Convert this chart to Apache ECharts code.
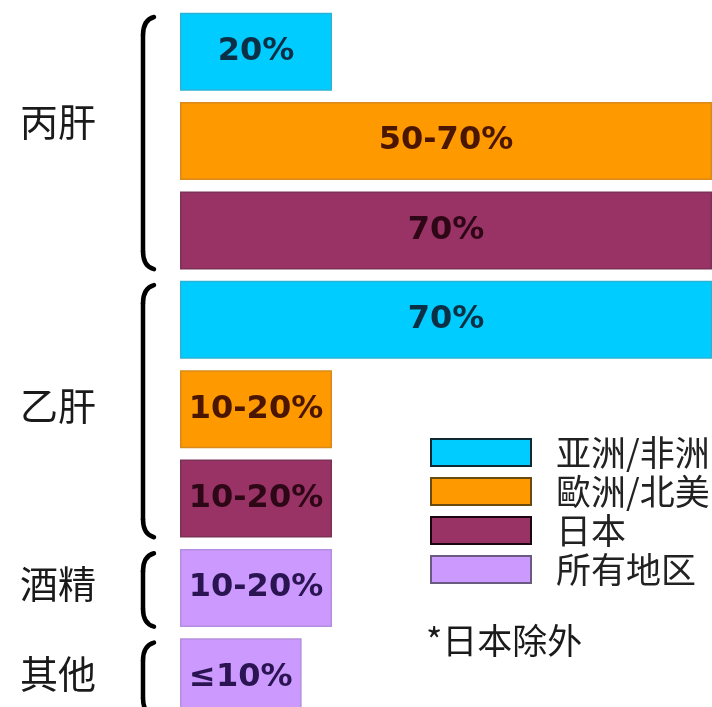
<!DOCTYPE html>
<html>
<head>
<meta charset="utf-8">
<script src="https://cdn.jsdelivr.net/npm/echarts@6/dist/echarts.min.js"></script>
<style>html,body{margin:0;padding:0;background:#fff}#c{width:712px;height:707px}</style>
</head>
<body>
<div id="c"></div>
<script>
// ---- data ----
const categories = ['丙肝·亚洲/非洲','丙肝·歐洲/北美','丙肝·日本','乙肝·亚洲/非洲','乙肝·歐洲/北美','乙肝·日本','酒精·所有地区','其他·所有地区'];
const seriesNames = ['亚洲/非洲','歐洲/北美','日本','所有地区'];
const asiaAfrica = [20,'-','-',70,'-','-','-','-'];
const europeNA   = ['-',70,'-','-',20,'-','-','-'];
const japan      = ['-','-',70,'-','-',20,'-','-'];
const allRegions = ['-','-','-','-','-','-',20,16];
const barLabels  = ['20%','50-70%','70%','70%','10-20%','10-20%','10-20%','≤10%'];
const groupNames = ['丙肝','乙肝','酒精','其他'];
const groupFirst = [0,3,6,7];
const groupLast  = [2,5,6,7];
const note = '*日本除外';

// ---- styles ----
const colors = ['#00CCFF','#FF9900','#993366','#CC99FF'];
const borders = ['#2bb3d6','#d98a1a','#7a3357','#b58ee0'];
const labelColors = ['#0b2f45','#4a1600','#2e0716','#2a1452'];
const legendBorders = ['#0d2a33','#6b4a10','#1a0510','#6b5a80'];
const groupLabelShift = [-22,-6,-6,-6];

const chart = echarts.init(document.getElementById('c'), null, {renderer:'canvas'});
const dataSets = [asiaAfrica, europeNA, japan, allRegions];

const option = {
  animation: false,
  backgroundColor: '#fff',
  grid: {left: 180, width: 532, top: 7, height: 715, outerBoundsMode: 'none', containLabel: false},
  xAxis: {type: 'value', min: 0, max: 70, show: false},
  yAxis: {type: 'category', data: categories, inverse: true, show: false},
  legend: {
    orient: 'vertical', left: 425, top: 430,
    itemWidth: 100, itemHeight: 27, itemGap: 4, icon: 'rect',
    data: seriesNames.map((n,i)=>({name:n, itemStyle:{color:colors[i], borderColor:legendBorders[i], borderWidth:2}})),
    textStyle: {fontSize: 35, fontFamily: '"Noto Sans CJK SC"', color: '#222', padding: [0,0,0,20]}
  },
  series: dataSets.map((d,i)=>({
    name: seriesNames[i], type: 'bar', stack: 'all', data: d, barWidth: 78,
    itemStyle: {color: colors[i], borderColor: borders[i], borderWidth: 1.5},
    label: {show: true, position: 'inside', fontFamily: 'DejaVu Sans', fontWeight: 'bold', fontSize: 32,
      color: labelColors[i], formatter: p => barLabels[p.dataIndex]}
  }))
};
chart.setOption(option);

// brackets and group labels, positioned from the category axis
const yPix = i => chart.convertToPixel({yAxisIndex:0}, categories[i]);
const band = yPix(1) - yPix(0);
const graphics = [];
const bstyle = {stroke:'#000', lineWidth:4.5, fill:null, lineCap:'round'};
groupNames.forEach((g,i)=>{
  const top = yPix(groupFirst[i]) - band/2 + 10;
  const bot = yPix(groupLast[i]) + band/2 - 6;
  const c = (top+bot)/2;
  graphics.push({type:'bezierCurve', shape:{x1:154,y1:top,cpx1:143,cpy1:top+3,x2:143,y2:top+18}, style:bstyle});
  graphics.push({type:'line', shape:{x1:143,y1:top+18,x2:143,y2:bot-18}, style:bstyle});
  graphics.push({type:'bezierCurve', shape:{x1:143,y1:bot-18,cpx1:143,cpy1:bot-3,x2:154,y2:bot}, style:bstyle});
  graphics.push({type:'text', x:58, y:c+groupLabelShift[i], style:{text:g, fontSize:38, fontFamily:'"Noto Sans CJK SC"', fill:'#1a1a1a', textAlign:'center', textVerticalAlign:'middle'}});
});
graphics.push({type:'text', x:426, y:641, style:{text:note, fontSize:35, fontFamily:'"Noto Sans CJK SC"', fill:'#1a1a1a', textVerticalAlign:'middle'}});
chart.setOption({graphic: graphics});
</script>
</body>
</html>
